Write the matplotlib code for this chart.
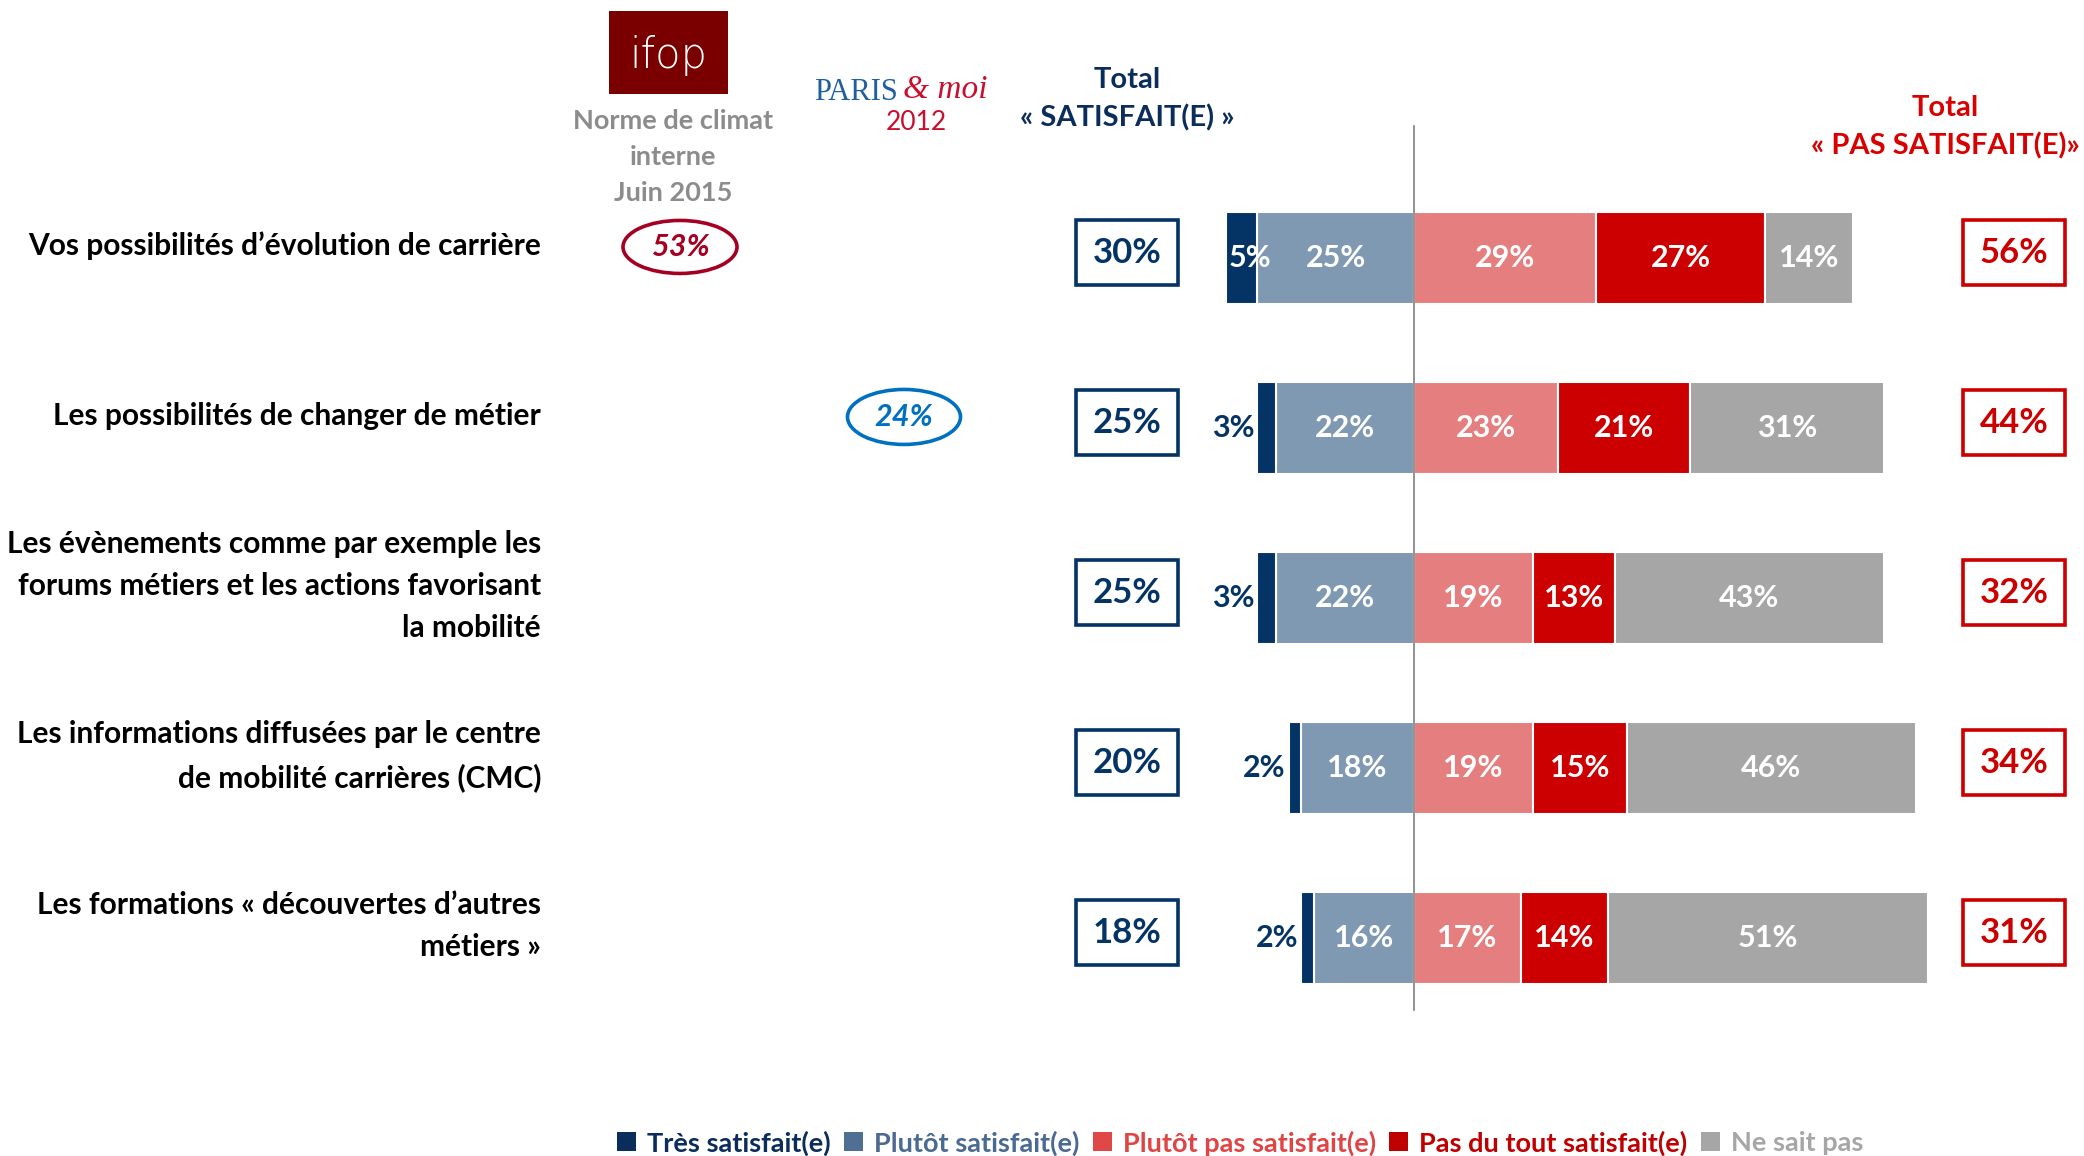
import matplotlib
matplotlib.use("Agg")
import matplotlib.pyplot as plt
from matplotlib.patches import Rectangle, Ellipse, Patch

plt.rcParams['font.family'] = ['Lato', 'DejaVu Sans']

# ---------------- data ----------------
categories = [
    "Vos possibilités d’évolution de carrière",
    "Les possibilités de changer de métier",
    "Les évènements comme par exemple les\nforums métiers et les actions favorisant\nla mobilité",
    "Les informations diffusées par le centre\nde mobilité carrières (CMC)",
    "Les formations « découvertes d’autres\nmétiers »",
]
tres_satisfait = [5, 3, 3, 2, 2]
plutot_satisfait = [25, 22, 22, 18, 16]
plutot_pas_satisfait = [29, 23, 19, 19, 17]
pas_du_tout_satisfait = [27, 21, 13, 15, 14]
ne_sait_pas = [14, 31, 43, 46, 51]
total_satisfait = [30, 25, 25, 20, 18]
total_pas_satisfait = [56, 44, 32, 34, 31]
norme_ifop = [53, None, None, None, None]
paris_moi_2012 = [None, 24, None, None, None]
legend_labels = ["Très satisfait(e)", "Plutôt satisfait(e)", "Plutôt pas satisfait(e)",
                 "Pas du tout satisfait(e)", "Ne sait pas"]

# ---------------- styles ----------------
C_NAVY = "#043366"
C_STEEL = "#7F99B2"
C_PINK = "#E57F7F"
C_RED = "#CC0000"
C_GRAY = "#A6A6A6"
LEG_TEXT = ["#0B2D5B", "#4A6A92", "#E04545", "#C00000", "#A6A6A6"]
LEG_SQ = ["#0B2D5B", "#4F6F94", "#E04848", "#C00000", "#A6A6A6"]

W, H = 2084, 1156
fig = plt.figure(figsize=(W / 100, H / 100), dpi=100)
ax = fig.add_axes([0, 0, 1, 1])

X0 = 1414.0     # pixel of the zero line
PPU = 6.27      # pixels per percentage point
Y0 = 258.0      # pixel of first row
ROW = 170.0     # pixels per row
ax.set_xlim(-X0 / PPU, (W - X0) / PPU)
ax.set_ylim((H - Y0) / ROW, -Y0 / ROW)
ax.axis('off')


def fx(px):
    return px / W


def fy(py):
    return 1 - py / H


n = len(categories)
ys = list(range(n))
bh = 0.54
ekw = dict(edgecolor='white', linewidth=1.5)

neg_p = [-v for v in plutot_satisfait]
neg_t = [-v for v in tres_satisfait]
ax.barh(ys, neg_p, left=0, height=bh, color=C_STEEL, **ekw)
ax.barh(ys, neg_t, left=neg_p, height=bh, color=C_NAVY, **ekw)
ax.barh(ys, plutot_pas_satisfait, left=0, height=bh, color=C_PINK, **ekw)
left2 = plutot_pas_satisfait
ax.barh(ys, pas_du_tout_satisfait, left=left2, height=bh, color=C_RED, **ekw)
left3 = [a + b for a, b in zip(plutot_pas_satisfait, pas_du_tout_satisfait)]
ax.barh(ys, ne_sait_pas, left=left3, height=bh, color=C_GRAY, **ekw)

# center line
ax.plot([0, 0], [(126 - Y0) / ROW, (1010 - Y0) / ROW], color="#7F7F7F", lw=1.2, zorder=5)

vfs = 22
for i in ys:
    t, p = tres_satisfait[i], plutot_satisfait[i]
    a, b, c = plutot_pas_satisfait[i], pas_du_tout_satisfait[i], ne_sait_pas[i]
    # satisfied side
    ax.text(-p / 2, i, f"{p}%", ha='center', va='center', color='white',
            fontsize=vfs, fontweight='bold', zorder=6)
    if t >= 5:
        ax.text(-p - t / 2 + 1.3, i, f"{t}%", ha='center', va='center', color='white',
                fontsize=vfs, fontweight='bold', zorder=6)
    else:
        ax.text(-p - t - 0.5, i, f"{t}%", ha='right', va='center', color=C_NAVY,
                fontsize=vfs, fontweight='bold', zorder=6)
    # unsatisfied side
    ax.text(a / 2, i, f"{a}%", ha='center', va='center', color='white',
            fontsize=vfs, fontweight='bold', zorder=6)
    ax.text(a + b / 2, i, f"{b}%", ha='center', va='center', color='white',
            fontsize=vfs, fontweight='bold', zorder=6)
    ax.text(a + b + c / 2, i, f"{c}%", ha='center', va='center', color='white',
            fontsize=vfs, fontweight='bold', zorder=6)

    # totals boxes
    bw, bhh = 102 / PPU, 65 / ROW
    cy = i - 0.03
    cxs = (1127 - X0) / PPU
    ax.add_patch(Rectangle((cxs - bw / 2, cy - bhh / 2), bw, bhh, fill=False,
                           edgecolor=C_NAVY, lw=2.6, zorder=6))
    ax.text(cxs, cy, f"{total_satisfait[i]}%", ha='center', va='center', color=C_NAVY,
            fontsize=25, fontweight='bold')
    cxr = (2014 - X0) / PPU
    ax.add_patch(Rectangle((cxr - bw / 2, cy - bhh / 2), bw, bhh, fill=False,
                           edgecolor=C_RED, lw=2.6, zorder=6))
    ax.text(cxr, cy, f"{total_pas_satisfait[i]}%", ha='center', va='center', color=C_RED,
            fontsize=25, fontweight='bold')

    # row labels
    ax.text((541 - X0) / PPU, i - 0.07, categories[i], ha='right', va='center',
            multialignment='right', fontsize=21.5, fontweight='bold', color='black',
            linespacing=1.6)

    # comparison ellipses
    if norme_ifop[i] is not None:
        ex = (680 - X0) / PPU
        ax.add_patch(Ellipse((ex, i - 0.065), 114 / PPU, 53 / ROW, fill=False,
                             edgecolor="#A50021", lw=2.6))
        ax.text(ex, i - 0.065, f"{norme_ifop[i]}%", ha='center', va='center',
                color="#A50021", fontsize=22, fontweight='bold', style='italic')
    if paris_moi_2012[i] is not None:
        ex = (904 - X0) / PPU
        ax.add_patch(Ellipse((ex, i - 0.065), 113 / PPU, 55 / ROW, fill=False,
                             edgecolor="#0070C0", lw=2.6))
        ax.text(ex, i - 0.065, f"{paris_moi_2012[i]}%", ha='center', va='center',
                color="#0070C0", fontsize=22, fontweight='bold', style='italic')

# ---------------- headers ----------------
fig.text(fx(1127), fy(99), "Total\n« SATISFAIT(E) »", ha='center', va='center',
         color="#0B2D5B", fontsize=21, fontweight='bold', linespacing=1.5)
fig.text(fx(2080), fy(127), "Total\n« PAS SATISFAIT(E)»", ha='right', va='center',
         multialignment='center', color="#D90000", fontsize=21, fontweight='bold',
         linespacing=1.5)

# ifop logo
fig.add_artist(Rectangle((fx(609), fy(94)), (728 - 609) / W, (94 - 11) / H,
                         transform=fig.transFigure, facecolor="#7A0000", edgecolor='none'))
fig.text(fx(668), fy(56), "ifop", ha='center', va='center', color='white',
         fontsize=30, fontweight='light', family=['DejaVu Sans'])
fig.text(fx(673), fy(157), "Norme de climat\ninterne\nJuin 2015", ha='center', va='center',
         color="#8C8C8C", fontsize=19.5, fontweight='bold', linespacing=1.6)

# Paris & moi logo
fig.text(fx(898), fy(92), "PARIS", ha='right', va='center', color="#1F5FA0",
         fontsize=22, family=['Liberation Serif'])
fig.text(fx(903), fy(90), "& moi", ha='left', va='center', color="#C8102E",
         fontsize=24, style='italic', family=['Liberation Serif'])
fig.text(fx(916), fy(123), "2012", ha='center', va='center', color="#C8102E", fontsize=19)

# ---------------- legend ----------------
handles = [Patch(facecolor=c, edgecolor='none') for c in LEG_SQ]
leg = fig.legend(handles, legend_labels, loc='center', bbox_to_anchor=(fx(1240), fy(1143)),
                 ncol=5, frameon=False, fontsize=19.5, handlelength=0.7, handleheight=0.7,
                 handletextpad=0.4, columnspacing=0.5, borderaxespad=0, borderpad=0)
for txt, c in zip(leg.get_texts(), LEG_TEXT):
    txt.set_color(c)
    txt.set_fontweight('bold')

fig.savefig("out.png", dpi=100)
